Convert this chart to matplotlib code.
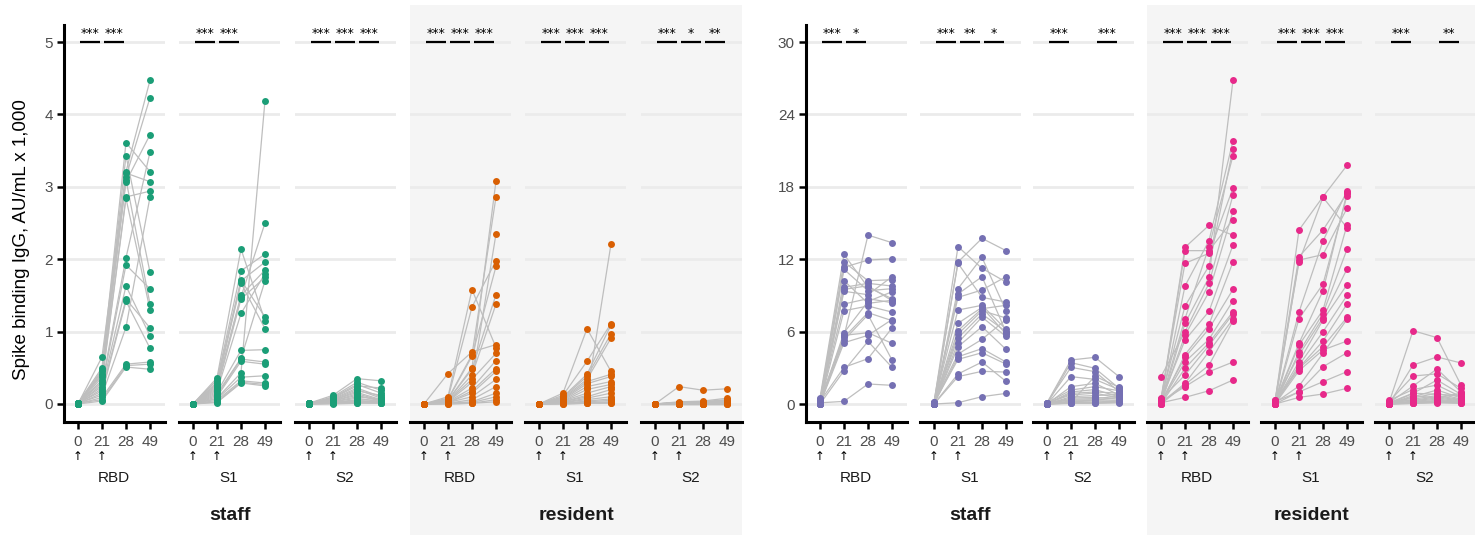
import matplotlib
matplotlib.use("Agg")
import matplotlib.pyplot as plt
import matplotlib.transforms as mtransforms
from matplotlib.patches import Rectangle

plt.rcParams['font.family'] = ['Liberation Sans', 'DejaVu Sans']

# ---------------- data ----------------
day_labels = ["0", "21", "28", "49"]
antigens = ["RBD", "S1", "S2"]
groups = ["staff", "resident"]
left_yticks = [0, 1, 2, 3, 4, 5]
right_yticks = [0, 6, 12, 18, 24, 30]
y_label = "Spike binding IgG, AU/mL x 1,000"

# each row = one subject: values at day 0, 21, 28, 49
L_staff_RBD = [
    [0.01, 0.50, 3.61, 3.21], [0.00, 0.45, 3.43, 1.82], [0.01, 0.42, 3.21, 4.47],
    [0.00, 0.65, 3.19, 3.07], [0.01, 0.40, 3.14, 4.23], [0.00, 0.37, 3.10, 1.38],
    [0.01, 0.47, 3.07, 3.72], [0.00, 0.33, 2.86, 2.94], [0.01, 0.30, 2.84, 1.30],
    [0.00, 0.27, 2.02, 3.48], [0.01, 0.24, 1.92, 1.59], [0.00, 0.21, 1.63, 0.94],
    [0.01, 0.18, 1.45, 1.05], [0.00, 0.15, 1.42, 0.77], [0.01, 0.12, 1.06, 2.86],
    [0.00, 0.09, 0.55, 0.58], [0.01, 0.06, 0.53, 0.55], [0.00, 0.04, 0.51, 0.48],
]
L_staff_S1 = [
    [0.00, 0.36, 2.14, 1.15], [0.00, 0.33, 1.84, 2.07], [0.00, 0.30, 1.71, 1.20],
    [0.00, 0.28, 1.70, 1.96], [0.00, 0.26, 1.67, 1.04], [0.00, 0.24, 1.50, 1.85],
    [0.00, 0.22, 1.48, 2.50], [0.00, 0.20, 1.45, 1.75], [0.00, 0.18, 1.25, 1.80],
    [0.00, 0.16, 0.74, 0.75], [0.00, 0.14, 0.63, 1.70], [0.00, 0.12, 0.62, 0.58],
    [0.00, 0.10, 0.59, 0.55], [0.00, 0.08, 0.43, 4.19], [0.00, 0.07, 0.37, 0.39],
    [0.00, 0.05, 0.32, 0.29], [0.00, 0.03, 0.30, 0.27], [0.00, 0.02, 0.29, 0.25],
]
L_staff_S2 = [
    [0.01, 0.12, 0.35, 0.32], [0.00, 0.10, 0.30, 0.19], [0.01, 0.09, 0.27, 0.15],
    [0.00, 0.08, 0.25, 0.22], [0.01, 0.07, 0.22, 0.10], [0.00, 0.06, 0.20, 0.08],
    [0.01, 0.05, 0.18, 0.12], [0.00, 0.05, 0.16, 0.06], [0.01, 0.04, 0.14, 0.05],
    [0.00, 0.04, 0.12, 0.04], [0.01, 0.03, 0.10, 0.06], [0.00, 0.03, 0.08, 0.03],
    [0.01, 0.02, 0.06, 0.05], [0.00, 0.02, 0.05, 0.02], [0.01, 0.01, 0.04, 0.03],
    [0.00, 0.01, 0.03, 0.02], [0.00, 0.01, 0.02, 0.01], [0.00, 0.00, 0.01, 0.01],
]
L_res_RBD = [
    [0.00, 0.42, 0.72, 0.82], [0.00, 0.10, 1.58, 0.78], [0.00, 0.08, 1.34, 1.98],
    [0.00, 0.07, 0.68, 2.86], [0.00, 0.06, 0.66, 1.90], [0.00, 0.05, 0.50, 3.08],
    [0.00, 0.05, 0.48, 1.51], [0.00, 0.04, 0.40, 1.38], [0.00, 0.04, 0.34, 0.70],
    [0.00, 0.03, 0.30, 2.35], [0.00, 0.03, 0.22, 0.60], [0.00, 0.02, 0.18, 0.49],
    [0.00, 0.02, 0.15, 0.45], [0.00, 0.02, 0.10, 0.34], [0.00, 0.01, 0.06, 0.24],
    [0.00, 0.01, 0.03, 0.15], [0.00, 0.01, 0.02, 0.10], [0.00, 0.00, 0.01, 0.06],
    [0.00, 0.00, 0.01, 0.03],
]
L_res_S1 = [
    [0.00, 0.15, 1.04, 0.45], [0.00, 0.12, 0.59, 1.11], [0.00, 0.10, 0.41, 1.09],
    [0.00, 0.09, 0.38, 0.97], [0.00, 0.08, 0.34, 0.91], [0.00, 0.07, 0.31, 0.41],
    [0.00, 0.06, 0.28, 0.38], [0.00, 0.05, 0.24, 0.31], [0.00, 0.04, 0.20, 0.27],
    [0.00, 0.04, 0.15, 0.24], [0.00, 0.03, 0.12, 2.21], [0.00, 0.03, 0.10, 0.20],
    [0.00, 0.02, 0.08, 0.15], [0.00, 0.02, 0.06, 0.10], [0.00, 0.01, 0.04, 0.07],
    [0.00, 0.01, 0.03, 0.05], [0.00, 0.01, 0.02, 0.03], [0.00, 0.00, 0.01, 0.02],
    [0.00, 0.00, 0.01, 0.01],
]
L_res_S2 = [
    [0.00, 0.24, 0.19, 0.21], [0.00, 0.03, 0.04, 0.08], [0.00, 0.02, 0.03, 0.06],
    [0.00, 0.02, 0.03, 0.05], [0.00, 0.02, 0.02, 0.05], [0.00, 0.01, 0.02, 0.04],
    [0.00, 0.01, 0.02, 0.04], [0.00, 0.01, 0.01, 0.03], [0.00, 0.01, 0.01, 0.03],
    [0.00, 0.01, 0.01, 0.02], [0.00, 0.00, 0.01, 0.02], [0.00, 0.00, 0.01, 0.02],
    [0.00, 0.00, 0.00, 0.01], [0.00, 0.00, 0.00, 0.01], [0.00, 0.00, 0.00, 0.01],
    [0.00, 0.00, 0.00, 0.01], [0.00, 0.00, 0.00, 0.00], [0.00, 0.00, 0.00, 0.00],
    [0.00, 0.00, 0.00, 0.00],
]
R_staff_RBD = [
    [0.5, 12.40, 9.67, 8.73], [0.3, 11.77, 10.22, 10.30], [0.2, 11.33, 11.93, 12.04],
    [0.1, 11.16, 9.39, 9.56], [0.0, 10.22, 8.34, 8.60], [0.4, 9.67, 10.00, 9.78],
    [0.1, 9.50, 9.80, 8.56], [0.0, 9.34, 9.06, 10.55], [0.2, 8.29, 8.73, 8.40],
    [0.0, 7.73, 8.12, 7.62], [0.1, 5.91, 8.50, 9.30], [0.0, 5.69, 5.91, 5.03],
    [0.3, 5.60, 14.00, 13.37], [0.0, 5.52, 7.57, 6.91], [0.1, 5.30, 7.40, 3.65],
    [0.0, 5.08, 5.69, 7.00], [0.2, 3.04, 3.76, 6.30], [0.0, 2.76, 5.19, 3.04],
    [0.1, 0.22, 1.66, 1.55],
]
R_staff_S1 = [
    [0.1, 13.04, 11.24, 10.11], [0.0, 11.77, 13.73, 12.71], [0.2, 11.66, 8.84, 8.45],
    [0.0, 9.56, 12.15, 7.73], [0.1, 9.12, 10.55, 5.97], [0.0, 8.84, 9.45, 10.55],
    [0.1, 7.79, 8.18, 6.19], [0.0, 6.69, 8.01, 5.80], [0.2, 6.08, 7.90, 8.18],
    [0.0, 5.80, 7.73, 7.13], [0.1, 5.47, 7.46, 6.00], [0.0, 5.08, 7.20, 5.60],
    [0.0, 4.75, 6.41, 4.53], [0.1, 4.14, 5.36, 7.00], [0.0, 3.92, 4.59, 3.48],
    [0.1, 3.70, 4.25, 3.31], [0.0, 2.49, 3.48, 1.88], [0.0, 2.27, 2.71, 2.65],
    [0.0, 0.11, 0.61, 0.88],
]
R_staff_S2 = [
    [0.1, 3.65, 3.87, 2.27], [0.0, 3.43, 2.96, 1.30], [0.1, 3.04, 2.68, 1.02],
    [0.0, 2.27, 2.04, 1.20], [0.0, 1.44, 1.71, 0.75], [0.1, 1.16, 1.44, 1.10],
    [0.0, 1.00, 1.20, 0.60], [0.0, 0.88, 1.00, 0.90], [0.1, 0.75, 0.90, 0.50],
    [0.0, 0.61, 0.70, 0.80], [0.0, 0.50, 0.55, 0.40], [0.0, 0.40, 0.45, 0.65],
    [0.1, 0.33, 0.35, 0.30], [0.0, 0.25, 0.30, 0.55], [0.0, 0.20, 0.25, 0.20],
    [0.0, 0.15, 2.30, 1.40], [0.0, 0.10, 0.15, 0.25], [0.0, 0.08, 0.10, 0.15],
    [0.0, 0.05, 0.05, 0.10],
]
R_res_RBD = [
    [0.3, 12.98, 14.81, 13.98], [0.2, 12.71, 12.71, 15.28], [0.5, 11.66, 12.49, 17.90],
    [0.1, 9.78, 13.54, 21.82], [0.4, 8.12, 11.44, 21.16], [0.2, 7.07, 13.04, 20.58],
    [0.0, 6.69, 10.50, 26.82], [2.27, 5.99, 10.00, 17.32], [0.1, 5.70, 9.28, 15.97],
    [0.3, 5.30, 7.68, 13.18], [0.0, 4.09, 6.60, 11.77], [0.2, 3.87, 6.24, 9.50],
    [0.1, 3.50, 5.36, 8.56], [0.0, 2.96, 5.08, 7.65], [0.4, 2.40, 4.86, 7.46],
    [0.1, 1.71, 4.34, 7.04], [0.0, 1.60, 3.23, 6.88], [0.2, 1.44, 2.68, 3.48],
    [0.1, 0.55, 1.10, 1.99],
]
R_res_S1 = [
    [0.1, 14.42, 17.18, 19.78], [0.3, 12.21, 14.42, 17.46], [0.0, 11.93, 12.38, 16.22],
    [0.2, 11.77, 17.13, 14.61], [0.1, 7.62, 13.51, 17.65], [0.0, 7.07, 9.94, 17.27],
    [0.2, 5.03, 9.39, 17.50], [0.1, 4.89, 7.79, 14.83], [0.0, 4.30, 7.50, 12.82],
    [0.3, 4.06, 7.15, 11.19], [0.1, 3.51, 6.96, 9.89], [0.0, 3.23, 5.99, 9.00],
    [0.2, 3.00, 5.22, 8.29], [0.1, 2.96, 4.75, 7.18], [0.0, 2.76, 4.48, 5.22],
    [0.1, 1.49, 4.20, 7.02], [0.0, 1.02, 3.09, 4.25], [0.2, 1.00, 1.85, 2.68],
    [0.0, 0.55, 0.83, 1.30],
]
R_res_S2 = [
    [0.1, 6.08, 5.50, 1.57], [0.0, 3.23, 3.90, 3.40], [0.2, 2.32, 2.50, 1.30],
    [0.1, 1.49, 2.90, 1.00], [0.0, 0.88, 1.99, 0.80], [0.3, 1.20, 1.57, 0.60],
    [0.0, 0.60, 1.16, 0.50], [0.1, 0.50, 0.90, 0.40], [0.0, 0.40, 0.70, 0.35],
    [0.2, 0.30, 0.60, 0.30], [0.0, 0.25, 0.50, 0.25], [0.1, 0.20, 0.40, 0.20],
    [0.0, 0.15, 0.30, 0.20], [0.1, 0.10, 0.25, 0.15], [0.0, 0.10, 0.20, 0.10],
    [0.0, 0.05, 0.15, 0.10], [0.0, 0.05, 0.10, 0.05], [0.1, 0.90, 0.80, 0.70],
    [0.0, 0.70, 0.50, 0.90],
]

# significance labels for comparisons 0-21, 21-28, 28-49
L_sig = [["***", "***", None], ["***", "***", None], ["***", "***", "***"],
         ["***", "***", "***"], ["***", "***", "***"], ["***", "*", "**"]]
R_sig = [["***", "*", None], ["***", "**", "*"], ["***", None, "***"],
         ["***", "***", "***"], ["***", "***", "***"], ["***", None, "**"]]

colors = {"L_staff": "#1B9E77", "L_res": "#D95F02",
          "R_staff": "#7570B3", "R_res": "#E7298A"}

# ---------------- figure ----------------
W, H = 1475, 535
fig = plt.figure(figsize=(W / 100, H / 100), dpi=100)
fig.patch.set_facecolor("white")

TOP, BOT = 25, 422
PW = 101
left_lefts = [64, 179, 295, 410, 525, 641]
right_lefts = [806, 920, 1033, 1147, 1261, 1375]
XLIM = (0.417, 4.625)

# grey background for resident facets
for x0, x1 in [(410, 742), (1147, 1475)]:
    fig.patches.append(Rectangle((x0 / W, 0), (x1 - x0) / W, (H - 5) / H,
                                 transform=fig.transFigure, facecolor="#F5F5F5",
                                 edgecolor="none", zorder=-5))


def fy(py):
    return 1 - py / H


def make_panel(left, data, color, yticks, ylim, sig, first, antigen):
    ax = fig.add_axes([left / W, fy(BOT), PW / W, (BOT - TOP) / H])
    ax.set_zorder(2)
    ax.set_facecolor("none")
    ax.set_xlim(*XLIM)
    ax.set_ylim(*ylim)
    for t in yticks:
        ax.axhline(t, color="#EBEBEB", lw=2.0, zorder=0)
    xs = [1, 2, 3, 4]
    for row in data:
        ax.plot(xs, row, color="#BEBEBE", lw=0.9, zorder=2, clip_on=False)
    for row in data:
        ax.scatter(xs, row, s=25, color=color, zorder=3, linewidths=0, clip_on=False)
    for s in ["top", "right"]:
        ax.spines[s].set_visible(False)
    ax.spines["bottom"].set_linewidth(2.2)
    ax.spines["left"].set_linewidth(2.2)
    ax.spines["left"].set_visible(first)
    ax.set_xticks(xs)
    ax.set_xticklabels(day_labels)
    ax.tick_params(axis="x", length=5, width=1.8, color="black", labelcolor="#4D4D4D",
                   labelsize=11, pad=4)
    ax.set_yticks(yticks)
    if first:
        ax.set_yticklabels([str(t) for t in yticks])
        ax.tick_params(axis="y", length=5, width=1.8, color="black", labelcolor="#4D4D4D",
                       labelsize=11, pad=3)
    else:
        ax.tick_params(axis="y", left=False, labelleft=False)
    ytop = yticks[-1]
    for i, lab in enumerate(sig):
        if lab is None:
            continue
        ax.plot([i + 1.08, i + 1.92], [ytop, ytop], color="black", lw=1.6,
                zorder=4, solid_capstyle="butt")
        ax.annotate(lab, xy=(i + 1.5, ytop), xytext=(0, 6.3), textcoords="offset points",
                    ha="center", va="center", fontsize=9, color="black",
                    family=["DejaVu Sans"])
    trans = mtransforms.blended_transform_factory(ax.transData, fig.transFigure)
    for x in [1, 2]:
        ax.text(x, fy(456), "\u2191", transform=trans, ha="center", va="center",
                fontsize=8.5, color="black", family=["DejaVu Sans"])
    ax.text(2.5, fy(478), antigen, transform=trans, ha="center", va="center",
            fontsize=11, color="#1A1A1A")
    return ax


left_data = [L_staff_RBD, L_staff_S1, L_staff_S2, L_res_RBD, L_res_S1, L_res_S2]
right_data = [R_staff_RBD, R_staff_S1, R_staff_S2, R_res_RBD, R_res_S1, R_res_S2]

L_ylim = (-0.249, 5.235)
R_ylim = (-1.49, 31.41)

for k in range(6):
    grp = "staff" if k < 3 else "res"
    make_panel(left_lefts[k], left_data[k], colors["L_" + grp], left_yticks, L_ylim,
               L_sig[k], k == 0, antigens[k % 3])
    make_panel(right_lefts[k], right_data[k], colors["R_" + grp], right_yticks, R_ylim,
               R_sig[k], k == 0, antigens[k % 3])

# group strip labels (bottom)
for lefts in [left_lefts, right_lefts]:
    for g, (a, b) in zip(groups, [(0, 2), (3, 5)]):
        cx = (lefts[a] + lefts[b] + PW) / 2
        fig.text(cx / W, fy(515), g, ha="center", va="center", fontsize=14,
                 fontweight="bold", color="#1A1A1A")

fig.text(22 / W, fy(240), y_label, rotation=90, ha="center", va="center",
         fontsize=13.5, color="black")

fig.savefig("out.png", dpi=100, facecolor="white")
